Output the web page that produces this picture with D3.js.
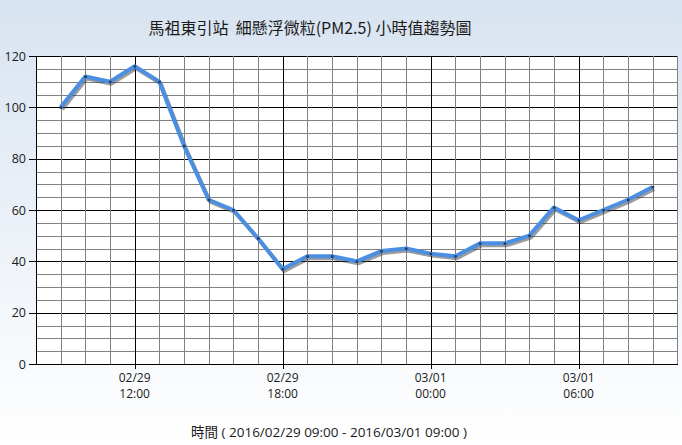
<!DOCTYPE html>
<html><head><meta charset="utf-8">
<script src="https://cdn.jsdelivr.net/npm/d3@7"></script>
<style>html,body{margin:0;padding:0;background:#fff;}svg{display:block;}text{white-space:pre;}</style>
</head><body>
<svg id="c" width="682" height="445"></svg>
<script>
const titleText = "馬祖東引站  細懸浮微粒(PM2.5) 小時值趨勢圖";
const axisTitle = "時間 ( 2016/02/29 09:00 - 2016/03/01 09:00 )";
const times = ["2016-02-29T09:00","2016-02-29T10:00","2016-02-29T11:00","2016-02-29T12:00","2016-02-29T13:00","2016-02-29T14:00","2016-02-29T15:00","2016-02-29T16:00","2016-02-29T17:00","2016-02-29T18:00","2016-02-29T19:00","2016-02-29T20:00","2016-02-29T21:00","2016-02-29T22:00","2016-02-29T23:00","2016-03-01T00:00","2016-03-01T01:00","2016-03-01T02:00","2016-03-01T03:00","2016-03-01T04:00","2016-03-01T05:00","2016-03-01T06:00","2016-03-01T07:00","2016-03-01T08:00","2016-03-01T09:00"];
const pm25 = [100,112,110,116,110,85,64,60,49,37,42,42,40,44,45,43,42,47,47,50,61,56,60,64,69];
const yTicks = [0,20,40,60,80,100,120];
const xTickDates = ["02/29","02/29","03/01","03/01"];
const xTickHours = ["12:00","18:00","00:00","06:00"];
const xTickTimes = ["2016-02-29T12:00","2016-02-29T18:00","2016-03-01T00:00","2016-03-01T06:00"];
const domainStart = "2016-02-29T08:00", domainEnd = "2016-03-01T10:00";

const svg = d3.select("#c");
const W = 682, H = 445;
const m = {l:36, r:4.7, t:56, b:81};
const parse = s => new Date(s);
const x = d3.scaleTime().domain([parse(domainStart), parse(domainEnd)]).range([m.l, W - m.r]);
const y = d3.scaleLinear().domain([0,120]).range([H - m.b, m.t]);

const defs = svg.append("defs");
const g = defs.append("linearGradient").attr("id","bg").attr("x1",0).attr("y1",0).attr("x2",0).attr("y2",1);
g.append("stop").attr("offset","0%").attr("stop-color","#d8e3f1");
g.append("stop").attr("offset","100%").attr("stop-color","#ffffff");
svg.append("rect").attr("width",W).attr("height",H).attr("fill","url(#bg)");

svg.append("rect").attr("x",x.range()[0]).attr("y",y(120)).attr("width",x.range()[1]-x.range()[0]).attr("height",y(0)-y(120)).attr("fill","#fff");

const font = "'Open Sans','Noto Sans CJK TC',sans-serif";
const cjkFont = "'Noto Sans CJK TC','Open Sans',sans-serif";

const grid = svg.append("g").attr("shape-rendering","crispEdges");
d3.range(0,121,5).forEach(v=>{
  const major = v % 20 === 0;
  grid.append("line").attr("x1",x.range()[0]).attr("x2",x.range()[1])
    .attr("y1",Math.round(y(v))+0.5).attr("y2",Math.round(y(v))+0.5)
    .attr("stroke", major ? "#000" : "#808080").attr("stroke-width",1);
});
const hours = d3.timeHour.range(parse(domainStart), d3.timeHour.offset(parse(domainEnd),1));
hours.forEach(h=>{
  const major = h.getHours() % 6 === 0;
  grid.append("line").attr("x1",Math.round(x(h))+0.5).attr("x2",Math.round(x(h))+0.5)
    .attr("y1",y(120)).attr("y2",y(0))
    .attr("stroke", major ? "#000" : "#808080");
});
grid.append("line").attr("x1",x.range()[0]+0.5).attr("x2",x.range()[0]+0.5).attr("y1",y(120)).attr("y2",y(0)+1).attr("stroke","#000");
grid.append("line").attr("x1",x.range()[0]).attr("x2",x.range()[1]+1).attr("y1",Math.round(y(0))+0.5).attr("y2",Math.round(y(0))+0.5).attr("stroke","#000");

const ya = svg.append("g").attr("transform",`translate(${x.range()[0]},0)`)
  .call(d3.axisLeft(y).tickValues(yTicks).tickSize(7).tickPadding(3));
ya.select(".domain").remove();
ya.selectAll("line").attr("stroke","#000").attr("shape-rendering","crispEdges");
ya.selectAll("text").attr("font-family",font).attr("font-size",12.5).attr("fill","#1a1a1a");

const xa = svg.append("g").attr("transform",`translate(0,${y(0)})`)
  .call(d3.axisBottom(x).tickValues(xTickTimes.map(parse)).tickSize(5).tickFormat(""));
xa.select(".domain").remove();
xa.selectAll("line").attr("stroke","#000").attr("shape-rendering","crispEdges");
xTickTimes.forEach((t,i)=>{
  const px = x(parse(t));
  svg.append("text").attr("x",px).attr("y",382).attr("text-anchor","middle")
    .attr("font-family",font).attr("font-size",12).attr("fill","#1a1a1a").text(xTickDates[i]);
  svg.append("text").attr("x",px).attr("y",398).attr("text-anchor","middle")
    .attr("font-family",font).attr("font-size",12).attr("fill","#1a1a1a").text(xTickHours[i]);
});

const data = times.map((t,i)=>({t:parse(t), v:pm25[i]}));
const line = d3.line().x(d=>x(d.t)).y(d=>y(d.v));
svg.append("path").datum(data).attr("d",line).attr("fill","none")
  .attr("stroke","rgba(60,60,60,0.5)").attr("stroke-width",4).attr("stroke-linejoin","round")
  .attr("transform","translate(1.5,2)");
svg.append("path").datum(data).attr("d",line).attr("fill","none")
  .attr("stroke","#4a8fe2").attr("stroke-width",4).attr("stroke-linejoin","round");
svg.selectAll(".mk").data(data).enter().append("rect")
  .attr("x",d=>x(d.t)-1).attr("y",d=>y(d.v)-1).attr("width",2.5).attr("height",2.5).attr("fill","#2a3a55");

svg.append("text").attr("x",310).attr("y",34).attr("text-anchor","middle")
  .attr("font-family",cjkFont).attr("font-size",16).attr("fill","#1a1a1a").text(titleText);
svg.append("text").attr("x",329).attr("y",437).attr("text-anchor","middle")
  .attr("font-family",font).attr("font-size",13.5).attr("fill","#1a1a1a").text(axisTitle);
</script>
</body></html>
